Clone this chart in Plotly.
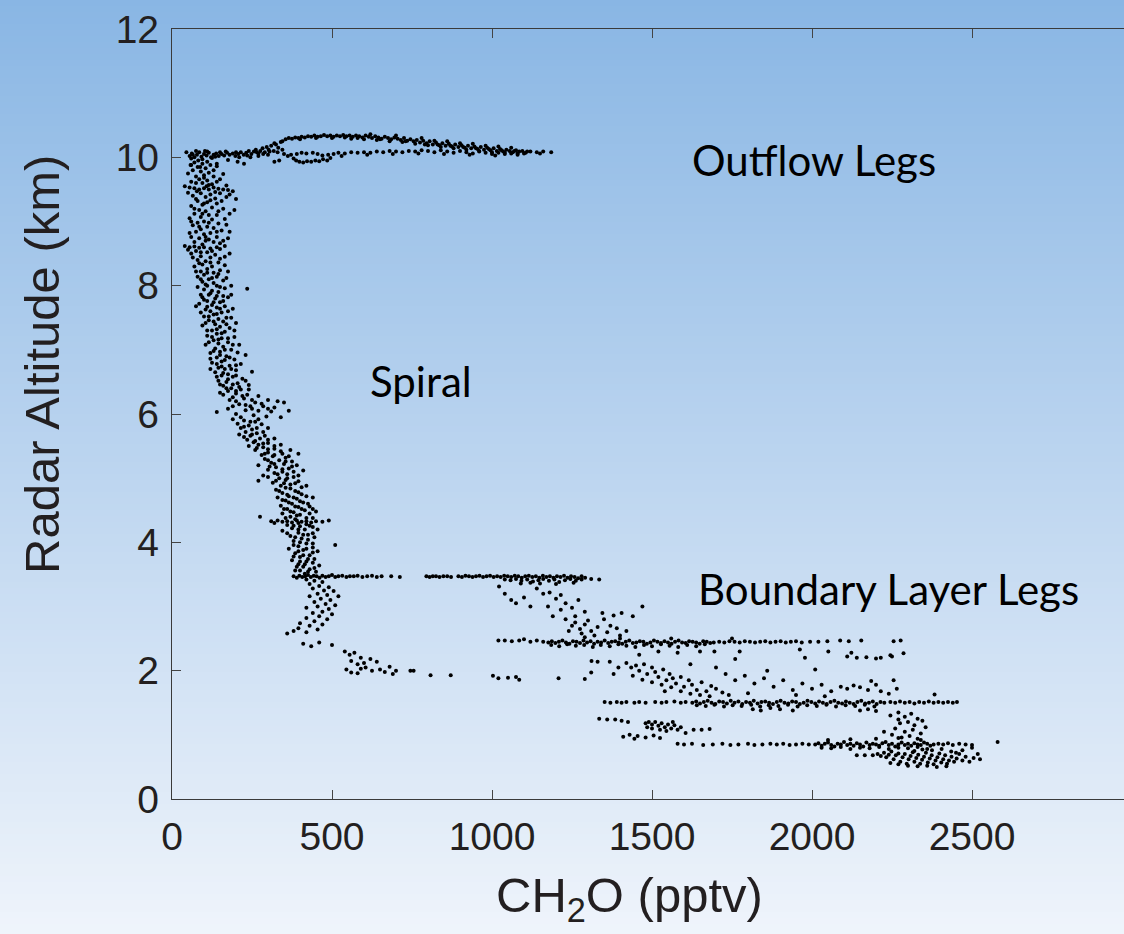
import plotly.graph_objects as go

# ---------------- data (CH2O pptv, radar altitude km) ----------------
OUTFLOW_WEST = [
    (45,10.08),(55,10.02),(62,10.06),(70,10.0),(78,10.04),(85,10.08),(92,10.01),(100,10.05),(108,10.03),
    (115,10.07),(122,10.0),(130,10.04),(138,10.06),(146,10.02),(155,10.05),(163,10.03),(172,10.07),(180,10.04),
    (190,10.06),(198,10.02),(207,10.05),(215,10.08),(224,10.04),(232,10.07),(240,10.1),(248,10.05),(256,10.09),
    (262,10.12),(270,10.06),(276,10.1),(283,10.14),(290,10.08),(296,10.16),(302,10.12),(310,10.18),(318,10.1),
    (325,10.2),(332,10.15),(60,9.98),(75,10.1),(95,9.97),(110,10.09),(125,9.99),(150,10.08),(175,9.96),(210,10.0),
    (245,10.0),(270,10.02),(300,10.04),(320,10.22),(58,9.88),(88,9.85),(140,9.9),(205,9.93),(225,9.9),(340,10.24),
    (335,9.95),(320,9.93),
    (65,10.04),(103,10.1),(135,10.01),(168,10.09),(200,10.08),(235,10.03),(265,10.08),(285,10.05),(305,10.09),
    (330,10.08),(345,10.12),
]
OUTFLOW_UPPER = [
    (345,10.25),(355,10.28),(365,10.3),(375,10.29),(385,10.31),(395,10.3),(405,10.32),(415,10.31),(425,10.33),
    (435,10.32),(445,10.34),(455,10.32),(465,10.33),(475,10.35),(485,10.33),(495,10.34),(505,10.32),(515,10.34),
    (525,10.33),(535,10.35),(545,10.33),(555,10.34),(565,10.32),(575,10.34),(585,10.33),(595,10.31),(605,10.34),
    (615,10.32),(625,10.3),(635,10.33),(645,10.31),(655,10.29),(665,10.32),(675,10.3),(685,10.28),(695,10.31),
    (705,10.29),(715,10.27),(725,10.3),(735,10.26),(745,10.28),(755,10.25),(765,10.27),(775,10.23),(785,10.26),
    (795,10.22),(805,10.25),(815,10.2),(825,10.23),(835,10.19),(845,10.22),(855,10.18),(865,10.21),(875,10.17),
    (885,10.2),(895,10.16),(905,10.19),(915,10.15),(925,10.18),(935,10.14),(945,10.17),(955,10.13),(965,10.16),
    (975,10.12),(985,10.15),(995,10.11),(1005,10.14),(1015,10.1),(1025,10.13),(1035,10.09),(1045,10.12),
    (1055,10.1),(1065,10.08),(1075,10.11),(1085,10.09),(1095,10.1),(1105,10.07),(1120,10.09),(1140,10.08),
    (1160,10.09),(1185,10.08),(560,10.29),(600,10.28),(640,10.27),(680,10.25),(720,10.24),(760,10.21),(800,10.19),
    (840,10.16),(880,10.14),(920,10.12),(960,10.1),(1000,10.08),(1040,10.07),(1080,10.06),(620,10.36),(700,10.34),
    (780,10.3),(860,10.25),(940,10.21),(1020,10.17),
    (400,10.28),(450,10.3),(500,10.3),(540,10.31),(580,10.3),(650,10.28),(730,10.25),(790,10.2),(830,10.2),
    (870,10.18),(910,10.16),(950,10.14),(990,10.13),(1030,10.11),(1070,10.1),(1110,10.09),(1150,10.06),
    (1060,10.15),(980,10.18),(900,10.22),(820,10.26),
]
OUTFLOW_RETURN = [
    (350,10.05),(362,10.02),(372,10.04),(380,9.98),(388,9.95),(398,9.93),(410,9.92),(422,9.94),(435,9.93),
    (448,9.95),(460,9.94),(472,9.97),(485,9.95),(495,9.99),(390,10.05),(405,10.07),(420,10.06),(440,10.07),
    (455,10.05),(470,10.03),(488,10.04),(505,10.05),(520,10.07),(540,10.06),(560,10.08),(580,10.07),(600,10.08),
    (620,10.07),(640,10.09),(660,10.08),(680,10.1),(700,10.09),(720,10.08),(740,10.1),(760,10.09),(780,10.11),
    (800,10.1),(820,10.08),(840,10.11),(860,10.09),(880,10.07),(900,10.1),(920,10.08),(940,10.06),(960,10.09),
    (980,10.07),(1000,10.05),(1020,10.07),(1040,10.05),(1060,10.06),(1080,10.04),(1100,10.06),(530,10.02),
    (610,10.04),(690,10.05),(770,10.06),(850,10.05),(930,10.04),(1010,10.03),
]
SPIRAL_UPPER = [
    (70,9.92),(95,9.9),(120,9.88),(80,9.85),(105,9.83),(140,9.86),(65,9.8),(90,9.78),(115,9.76),(100,9.72),
    (75,9.7),(130,9.7),(160,9.74),(85,9.66),(110,9.64),(60,9.62),(140,9.62),(95,9.6),(125,9.58),(40,9.55),
    (55,9.53),(70,9.52),(85,9.5),(100,9.52),(115,9.5),(130,9.53),(145,9.51),(160,9.5),(175,9.49),(190,9.47),
    (108,9.55),(78,9.47),(90,9.44),(120,9.42),(150,9.44),(65,9.4),(105,9.38),(135,9.36),(170,9.38),(200,9.35),
    (80,9.32),(110,9.3),(95,9.26),(140,9.28),(60,9.24),(125,9.22),(160,9.2),(85,9.18),(105,9.16),(195,9.18),
    (70,9.12),(115,9.1),(140,9.1),(90,9.07),(55,9.05),(125,9.03),(165,9.04),(100,9.0),(80,8.98),(145,8.97),
    (65,8.94),(110,8.92),(130,8.9),(90,8.88),(155,8.86),(75,8.84),(120,8.82),(180,8.84),(100,8.8),(60,8.76),
    (140,8.76),(85,8.74),(115,8.72),(160,8.7),(105,8.7),(130,8.68),(40,8.62),(55,8.6),(70,8.61),(85,8.59),
    (100,8.6),(120,8.58),(140,8.6),(165,8.62),(95,8.64),(150,8.57),(75,8.54),(110,8.52),(60,8.5),(135,8.48),
    (90,8.46),(120,8.44),(165,8.45),(80,8.4),(105,8.38),(145,8.36),(95,8.33),(70,8.3),(125,8.3),(110,8.26),
    (150,8.24),(90,8.22),(130,8.2),(175,8.22),(100,8.17),(80,8.14),(140,8.14),(115,8.1),(160,8.08),(95,8.06),
    (130,8.04),(185,8.0),(110,8.0),(150,7.98),(235,7.95),(100,7.94),(125,7.92),(145,7.9),(115,7.86),(160,7.84),
    (95,7.82),(135,7.8),(175,7.82),(110,7.76),(150,7.74),(85,7.72),(125,7.7),(165,7.68),(140,7.66),(105,7.63),
    (190,7.64),(120,7.6),(155,7.58),(130,7.55),(100,7.52),(170,7.5),(145,7.48),(115,7.46),(160,7.44),(200,7.42),
    (135,7.4),(95,7.38),(150,7.36),(180,7.34),(125,7.3),(165,7.28),(140,7.25),(110,7.22),(195,7.2),(155,7.18),
    (130,7.15),(175,7.12),(145,7.1),(105,7.08),(210,7.08),(160,7.05),(135,7.02),(185,7.0),(150,6.97),(120,6.95),
    (230,6.92),(170,6.9),(140,6.88),(195,6.85),(155,6.82),(125,6.8),(215,6.78),(180,6.75),(145,6.72),(165,6.7),
    (200,6.68),(135,6.65),(250,6.66),(175,6.62),(155,6.6),(190,6.58),(220,6.55),(145,6.52),(170,6.5),(205,6.48),
    (240,6.45),(160,6.44),(185,6.4),(215,6.38),(175,6.36),(150,6.33),(200,6.32),(235,6.3),(270,6.28),(190,6.26),
    (225,6.24),(300,6.22),(330,6.2),(350,6.18),(260,6.18),(210,6.15),(245,6.12),(285,6.12),(320,6.1),(175,6.08),
    (230,6.06),(270,6.05),(310,6.04),(365,6.05),(140,6.03),(200,6.0),(255,5.98),(295,5.96),(340,5.95),
]
SPIRAL_UPPER_EXTRA = [
    (82,9.95),(110,9.93),(60,9.88),(130,9.8),(50,9.75),(100,9.68),(150,9.66),(75,9.6),(115,9.57),(170,9.56),
    (50,9.45),(135,9.46),(180,9.42),(75,9.35),(120,9.33),(155,9.32),(100,9.28),(70,9.2),(145,9.16),(180,9.12),
    (95,9.12),(60,9.0),(115,8.98),(170,8.95),(85,8.92),(140,8.84),(55,8.82),(105,8.76),(175,8.74),(70,8.68),
    (150,8.66),(50,8.56),(90,8.52),(125,8.54),(180,8.5),(65,8.44),(150,8.42),(85,8.35),(120,8.36),(165,8.32),
    (75,8.22),(110,8.2),(145,8.18),(125,8.12),(90,8.1),(170,8.12),(105,8.02),(140,8.0),(80,7.98),(165,7.96),
    (120,7.88),(185,7.86),(90,7.86),(140,7.84),(100,7.78),(160,7.76),(130,7.74),(75,7.68),(110,7.67),(150,7.64),
    (175,7.6),(90,7.58),(140,7.56),(115,7.52),(185,7.5),(130,7.44),(105,7.42),(170,7.4),(140,7.32),(110,7.3),
    (195,7.3),(155,7.26),(125,7.2),(175,7.18),(145,7.16),(115,7.12),(190,7.08),(165,7.0),(130,6.98),(205,6.96),
    (150,6.92),(180,6.88),(120,6.86),(165,6.84),(140,6.78),(200,6.76),(155,6.74),(185,6.7),(120,6.7),(160,6.64),
    (200,6.6),(140,6.58),(175,6.54),(230,6.52),(190,6.46),(150,6.46),(210,6.42),(170,6.4),(240,6.38),(200,6.36),
    (160,6.3),(220,6.28),(180,6.22),(250,6.22),(200,6.2),(280,6.16),(230,6.14),(190,6.12),(300,6.08),(250,6.08),
]
SPIRAL_LOWER = [
    (190,5.92),(225,5.9),(260,5.88),(205,5.85),(240,5.82),(280,5.84),(215,5.78),(250,5.76),(300,5.78),(230,5.72),
    (265,5.7),(210,5.68),(245,5.66),(290,5.66),(275,5.62),(235,5.6),(320,5.62),(255,5.56),(300,5.55),(270,5.52),
    (340,5.52),(240,5.5),(285,5.48),(320,5.46),(370,5.44),(260,5.44),(300,5.4),(345,5.38),(280,5.36),(395,5.38),
    (315,5.34),(355,5.32),(290,5.3),(335,5.28),(375,5.26),(310,5.24),(350,5.22),(270,5.2),(390,5.2),(325,5.17),
    (365,5.15),(300,5.13),(345,5.1),(410,5.12),(320,5.08),(360,5.06),(285,5.04),(380,5.02),(335,5.0),(355,4.97),
    (270,4.96),(395,4.95),(315,4.93),(370,4.9),(340,4.88),(420,4.88),(355,4.85),(325,4.82),(385,4.8),(345,4.77),
    (405,4.75),(365,4.72),(330,4.7),(390,4.68),(440,4.7),(355,4.65),(410,4.62),(375,4.6),(340,4.57),(395,4.55),
    (430,4.56),(360,4.52),(415,4.5),(380,4.47),(450,4.48),(345,4.45),(400,4.43),(275,4.4),(370,4.4),(420,4.38),
    (310,4.33),(330,4.34),(345,4.32),(360,4.33),(375,4.31),(390,4.34),(405,4.32),(420,4.33),(435,4.31),(450,4.33),
    (470,4.32),(490,4.34),(320,4.3),(385,4.36),(360,4.27),(400,4.25),(430,4.26),(375,4.22),(415,4.2),(345,4.18),
    (455,4.2),(395,4.15),(425,4.12),(370,4.1),(445,4.08),(405,4.06),(380,4.02),(510,3.96),(420,3.98),(395,3.94),
    (440,3.92),(365,3.9),(410,3.88),(455,3.86),(385,3.83),(430,3.8),(400,3.77),(445,3.74),(375,3.72),(420,3.7),
    (395,3.66),(460,3.64),(410,3.62),(430,3.58),(385,3.56),(450,3.54),(415,3.51),
    (420,3.42),(445,3.4),(470,3.38),(430,3.35),(460,3.32),(490,3.3),(440,3.28),(475,3.25),(505,3.24),(455,3.2),
    (485,3.18),(430,3.16),(520,3.16),(465,3.12),(495,3.1),(445,3.07),(480,3.04),(510,3.02),(455,3.0),(420,2.98),
    (490,2.96),(470,2.92),(440,2.9),(500,2.88),(460,2.85),(420,2.82),(485,2.8),(445,2.77),(400,2.74),(470,2.72),
    (430,2.7),(395,2.66),(455,2.64),(380,2.62),(420,2.6),(360,2.58),
]
SPIRAL_LOWER_EXTRA = [
    (215,5.95),(270,5.92),(245,5.88),(225,5.8),(265,5.78),(285,5.72),(250,5.68),(225,5.64),(300,5.6),(260,5.58),
    (285,5.54),(320,5.5),(265,5.47),(300,5.45),(340,5.42),(290,5.38),(320,5.36),(365,5.34),(300,5.28),(355,5.26),
    (320,5.22),(375,5.18),(305,5.18),(345,5.14),(380,5.1),(330,5.06),(300,5.02),(360,5.0),(395,5.04),(325,4.96),
    (385,4.92),(350,4.92),(405,4.86),(370,4.84),(335,4.8),(395,4.78),(360,4.74),(420,4.72),(380,4.7),(345,4.66),
    (400,4.64),(365,4.62),(425,4.6),(385,4.56),(350,4.52),(405,4.52),(440,4.52),(370,4.48),(430,4.45),(390,4.42),
    (355,4.38),(440,4.38),(395,4.3),(420,4.28),(380,4.26),(440,4.24),(395,4.2),(360,4.14),(410,4.12),(440,4.14),
    (385,4.08),(425,4.04),(400,4.0),(440,3.98),(380,3.96),(420,3.9),(395,3.86),(440,3.84),(410,3.8),(380,3.78),
    (425,3.74),(400,3.7),(440,3.68),(415,3.66),(390,3.62),(445,3.6),(400,3.56),(425,3.54),
]
SPIRAL_BASE = [
    (410,2.42),(435,2.38),(460,2.44),(500,2.4),(540,2.3),(555,2.25),(570,2.28),(590,2.2),(560,2.15),(580,2.1),
    (600,2.12),(620,2.18),(640,2.14),(605,2.05),(625,2.0),(650,2.02),(680,2.06),(665,1.98),(545,2.02),(560,1.97),
    (590,2.03),(700,2.0),(690,1.95),(580,1.96),(745,2.0),(755,2.0),(808,1.93),(871,1.93),(1003,1.92),(1020,1.88),
    (1050,1.89),(1075,1.9),(1085,1.86),(1208,1.88),(1290,1.87),(1310,1.97),
]
LEG_3_5KM = [
    (380,3.47),(390,3.45),(398,3.48),(407,3.46),(416,3.47),(425,3.49),(434,3.46),(443,3.48),(452,3.47),(461,3.45),
    (470,3.48),(480,3.46),(490,3.47),(500,3.49),(510,3.46),(520,3.47),(532,3.48),(545,3.46),(556,3.47),(568,3.47),
    (580,3.48),(595,3.46),(610,3.47),(625,3.48),(640,3.46),(655,3.47),(685,3.47),(712,3.46),
    (795,3.47),(805,3.46),(815,3.47),(825,3.47),(836,3.46),(848,3.47),(860,3.47),(872,3.46),
    (895,3.47),(906,3.46),(917,3.48),(928,3.47),(939,3.46),(950,3.47),(961,3.48),(972,3.46),(983,3.47),(994,3.48),
    (1005,3.46),(1016,3.47),(1027,3.46),(1038,3.48),(1049,3.47),(1060,3.46),(1071,3.48),(1082,3.47),(1093,3.45),
    (1104,3.47),(1115,3.48),(1126,3.46),(1137,3.47),(1148,3.45),(1159,3.48),(1170,3.46),(1181,3.47),(1192,3.45),
    (1203,3.47),(1214,3.46),(1225,3.48),(1236,3.45),(1247,3.47),(1258,3.46),(1269,3.44),(1280,3.47),(1291,3.45),
    (1040,3.42),(1058,3.41),(1075,3.43),(1092,3.4),(1110,3.42),(1128,3.39),(1145,3.41),(1160,3.43),(1178,3.4),
    (1195,3.42),(1210,3.38),(1228,3.41),(1245,3.43),(1262,3.4),(1280,3.42),(1150,3.36),(1120,3.37),(1200,3.35),
    (1255,3.37),(1090,3.36),(1310,3.43),(1335,3.42),
]
CASCADE = [
    (1022,3.31),(1040,3.2),(1060,3.1),(1075,3.05),(1100,3.14),(1120,3.0),(1140,3.28),(1160,3.2),(1180,3.22),
    (1200,3.12),(1215,3.18),(1230,3.05),(1250,2.98),(1270,3.1),(1290,2.92),(1175,3.0),(1215,2.95),(1190,2.85),
    (1230,2.8),(1250,2.7),(1260,2.75),(1275,2.65),(1290,2.72),(1300,2.78),(1310,2.62),(1330,2.68),(1350,2.8),
    (1370,2.7),(1390,2.66),(1240,2.62),(1280,2.58),(1320,2.55),(1360,2.6),(1400,2.55),(1420,2.62),(1260,2.85),
    (1345,2.9),(1380,2.86),(1405,2.9),(1440,2.85),(1470,3.0),
]
LEG_2_5KM = [
    (1020,2.47),(1040,2.47),(1062,2.46),(1085,2.47),(1100,2.49),(1120,2.45),(1140,2.47),(1160,2.45),
    (1176,2.44),(1187,2.46),(1198,2.43),(1209,2.45),(1220,2.47),(1231,2.44),(1242,2.42),(1253,2.46),(1264,2.45),
    (1275,2.43),(1286,2.47),(1297,2.44),(1308,2.46),(1319,2.42),(1330,2.45),(1341,2.44),(1352,2.47),(1363,2.43),
    (1374,2.45),(1385,2.46),(1396,2.44),(1407,2.42),(1418,2.45),(1429,2.47),(1440,2.43),(1451,2.44),(1462,2.46),
    (1473,2.45),(1484,2.42),(1495,2.44),(1506,2.47),(1517,2.45),(1528,2.43),(1539,2.46),(1550,2.44),(1561,2.42),
    (1572,2.45),(1583,2.47),(1594,2.44),(1605,2.43),(1616,2.46),(1627,2.45),(1638,2.44),(1649,2.42),(1660,2.46),
    (1671,2.45),(1682,2.43),(1693,2.44),
    (1185,2.4),(1210,2.38),(1235,2.41),(1262,2.39),(1288,2.4),(1315,2.37),(1340,2.4),(1368,2.38),(1395,2.41),
    (1420,2.39),(1448,2.37),(1475,2.4),(1500,2.38),(1528,2.41),(1555,2.39),(1582,2.37),(1610,2.4),(1638,2.38),
    (1665,2.41),
    (1710,2.45),(1726,2.44),(1742,2.46),(1758,2.45),(1774,2.44),(1790,2.46),(1806,2.45),(1822,2.44),(1838,2.45),
    (1854,2.46),(1870,2.44),(1886,2.45),(1902,2.46),(1918,2.44),(1934,2.45),(1950,2.46),(1968,2.44),(1994,2.45),
    (2020,2.45),(2048,2.46),(2088,2.47),(2154,2.47),(2277,2.47),(1290,2.52),(1400,2.5),(1560,2.5),(1750,2.5),
]
MID_SCATTER = [
    (1311,2.15),(1330,2.14),(1368,2.14),(1420,2.12),(1435,2.05),(1450,2.08),(1460,2.0),(1475,2.1),(1485,1.95),
    (1500,2.05),(1510,1.98),(1520,1.9),(1535,2.02),(1545,1.85),(1555,1.95),(1565,1.88),(1575,1.8),(1590,1.9),
    (1600,1.75),(1615,1.85),(1625,1.78),(1640,1.7),(1655,1.82),(1670,1.68),(1685,1.76),(1700,1.72),(1720,1.66),
    (1440,1.92),(1470,1.86),(1500,1.82),(1530,1.78),(1560,1.74),(1590,1.68),(1620,1.64),(1650,1.62),(1460,2.25),
    (1520,2.3),(1580,2.28),(1650,2.3),(1695,2.3),(1774,2.3),(1760,2.18),(1730,1.95),(1760,1.85),(1790,1.92),
    (1820,1.8),(1850,1.88),(1880,1.75),(1910,1.85),(1940,1.7),(1970,1.8),(2000,1.72),(2030,1.78),(2060,1.68),
    (1962,2.33),(1978,2.2),(2051,2.3),(2010,2.02),(1860,2.0),(1800,1.65),(1950,1.62),(2040,1.6),(1700,2.05),
    (1620,2.1),(1380,1.95),(1395,2.05),(1540,1.68),(1680,1.6),(1740,1.62),
    (2090,1.75),(2110,1.72),(2130,1.77),(2150,1.74),(2175,1.7),(2200,1.78),(2215,1.68),(2240,1.64),(2265,1.72),
    (2185,1.84),(2255,1.85),(2110,2.22),(2140,2.2),(2170,2.21),(2200,2.19),(2215,2.2),(2250,2.22),(2115,2.46),
    (2255,2.46),(2383,1.63),(2123,2.28),(2245,2.24),(2286,2.27),
]
LEG_1_5KM = [
    (1352,1.51),(1370,1.5),(1390,1.51),(1405,1.5),(1420,1.51),(1445,1.5),(1460,1.51),(1480,1.5),(1510,1.51),
    (1530,1.5),(1545,1.51),(1570,1.52),(1590,1.5),(1605,1.51),
    (1626,1.5),(1638,1.52),(1650,1.49),(1662,1.51),(1674,1.53),(1686,1.5),(1698,1.48),(1710,1.52),(1722,1.51),
    (1734,1.49),(1746,1.53),(1758,1.5),(1770,1.52),(1782,1.48),(1794,1.51),(1806,1.5),(1818,1.53),(1830,1.49),
    (1842,1.51),(1854,1.52),(1866,1.5),(1878,1.48),(1890,1.51),(1902,1.53),(1914,1.5),(1926,1.49),(1938,1.52),
    (1950,1.51),(1962,1.48),(1974,1.5),(1986,1.53),(1998,1.51),(2010,1.49),(2022,1.52),(2034,1.5),(2046,1.48),
    (2058,1.51),(2070,1.53),(2082,1.5),(2094,1.49),(2106,1.52),(2118,1.5),(2130,1.48),(2142,1.51),(2154,1.53),
    (2166,1.49),(2178,1.5),(2190,1.52),(2202,1.48),(2214,1.51),(2226,1.5),
    (1640,1.46),(1668,1.45),(1695,1.47),(1725,1.44),(1752,1.46),(1780,1.45),(1810,1.47),(1838,1.44),(1865,1.46),
    (1895,1.45),(1925,1.47),(1955,1.44),(1985,1.46),(2015,1.45),(2045,1.47),(2075,1.44),(2105,1.46),(2135,1.45),
    (2165,1.47),(2195,1.44),
    (2245,1.51),(2260,1.5),(2275,1.52),(2290,1.5),(2305,1.51),(2320,1.49),(2335,1.51),(2350,1.5),(2365,1.52),
    (2380,1.5),(2395,1.51),(2410,1.5),(2425,1.51),(2440,1.5),(2453,1.51),
    (1815,1.4),(1840,1.38),(1870,1.42),(1900,1.4),(1940,1.38),(2150,1.38),(2175,1.4),(2200,1.37),
]
CLUSTER_1_1KM = [
    (1335,1.25),(1360,1.24),(1385,1.24),(1405,1.22),(1425,1.2),(1480,1.18),(1490,1.2),(1500,1.16),(1510,1.2),
    (1520,1.14),(1530,1.18),(1540,1.12),(1550,1.16),(1560,1.1),(1570,1.15),(1580,1.08),(1590,1.12),(1500,1.1),
    (1525,1.08),(1545,1.06),(1485,1.12),(1565,1.2),(1410,0.97),(1430,1.0),(1455,0.98),(1480,0.96),(1505,0.99),
    (1525,0.95),(1445,0.94),(1630,1.08),(1655,1.08),(1680,1.09),(1605,1.03),
]
LEG_0_8KM = [
    (1580,0.86),(1600,0.85),(1625,0.86),(1660,0.84),(1690,0.85),(1720,0.86),(1745,0.84),(1770,0.85),(1800,0.86),
    (1820,0.84),(1845,0.85),(1870,0.86),(1890,0.85),(1910,0.86),(1930,0.84),(1950,0.85),(1970,0.86),(1990,0.85),
    (2010,0.85),(2020,0.87),(2030,0.83),(2040,0.86),(2050,0.88),(2060,0.84),(2070,0.82),(2080,0.86),(2090,0.85),
    (2100,0.89),(2110,0.84),(2120,0.86),(2130,0.83),(2140,0.87),(2150,0.85),(2160,0.82),(2170,0.88),(2180,0.84),
    (2190,0.86),(2200,0.85),(2210,0.83),(2220,0.87),(2230,0.89),(2240,0.84),(2250,0.86),(2260,0.82),(2270,0.85),
    (2280,0.88),(2290,0.84),(2300,0.86),(2310,0.83),(2320,0.87),(2330,0.85),(2340,0.84),(2350,0.88),(2360,0.86),
    (2370,0.83),(2380,0.85),
    (2030,0.8),(2060,0.79),(2090,0.81),(2120,0.78),(2150,0.8),(2180,0.79),(2210,0.81),(2240,0.78),(2270,0.8),
    (2300,0.79),(2330,0.81),(2360,0.78),
    (2395,0.86),(2410,0.85),(2425,0.87),(2440,0.84),(2460,0.86),(2480,0.85),(2500,0.84),(2580,0.89),
    (2050,0.92),(2120,0.93),(2200,0.94),(2270,0.95),(2340,0.92),
]
BOTTOM_CLUSTER = [
    (2140,0.68),(2165,0.68),(2190,0.68),(2205,0.7),(2215,0.67),(2225,0.72),(2232,0.65),(2240,0.69),(2248,0.74),
    (2255,0.62),(2262,0.68),(2270,0.71),(2276,0.58),(2283,0.65),(2290,0.7),(2296,0.55),(2302,0.62),(2308,0.67),
    (2315,0.73),(2320,0.58),(2326,0.64),(2332,0.69),(2338,0.55),(2344,0.61),(2350,0.66),(2356,0.72),(2362,0.57),
    (2368,0.63),(2374,0.68),(2380,0.54),(2386,0.6),(2392,0.65),(2398,0.71),(2404,0.57),(2410,0.62),(2416,0.68),
    (2422,0.55),(2428,0.6),(2436,0.66),(2444,0.58),(2452,0.63),(2460,0.7),(2470,0.6),(2480,0.66),(2492,0.58),
    (2505,0.64),(2518,0.7),(2300,0.52),(2330,0.51),(2360,0.52),(2390,0.5),(2420,0.51),(2270,0.54),(2245,0.56),
    (2320,0.75),(2345,0.77),(2375,0.76),(2405,0.78),(2435,0.74),(2470,0.76),(2500,0.8),(2450,0.72),(2525,0.62),
]
COLUMN_2300 = [
    (2245,1.3),(2270,1.35),(2290,1.28),(2310,1.33),(2330,1.25),(2300,1.2),(2275,1.18),(2320,1.15),(2345,1.22),
    (2260,1.1),(2290,1.05),(2315,1.08),(2340,1.02),(2250,1.0),(2280,0.96),(2305,0.98),(2330,0.94),(2270,1.24),
    (2225,1.05),(2355,1.12),
]

SEGMENTS = [OUTFLOW_WEST, OUTFLOW_UPPER, OUTFLOW_RETURN, SPIRAL_UPPER, SPIRAL_UPPER_EXTRA, SPIRAL_LOWER,
            SPIRAL_LOWER_EXTRA, SPIRAL_BASE, LEG_3_5KM, CASCADE, LEG_2_5KM, MID_SCATTER, LEG_1_5KM,
            CLUSTER_1_1KM, LEG_0_8KM, BOTTOM_CLUSTER, COLUMN_2300]

X_TICKS = [0, 500, 1000, 1500, 2000, 2500]
Y_TICKS = [0, 2, 4, 6, 8, 10, 12]
LABELS = [("Outflow Legs", 1618, 9.96), ("Spiral", 612, 6.52), ("Boundary Layer Legs", 1639, 3.28)]

# ---------------- figure ----------------
W, H = 1124, 934
ML, MT, MB = 172, 29, 135
PH = H - MT - MB
XMAX = (W - ML) * 3.125

xs = [p[0] for seg in SEGMENTS for p in seg]
ys = [p[1] for seg in SEGMENTS for p in seg]

fig = go.Figure(go.Scatter(x=xs, y=ys, mode="markers",
                           marker=dict(color="black", size=4, line=dict(width=0)),
                           hoverinfo="skip", showlegend=False))

# vertical background gradient (light blue -> almost white)
top_c, bot_c = (137, 182, 228), (239, 244, 251)
shapes = []
step = 6
for py in range(0, H, step):
    t = (py + step / 2) / H
    c = tuple(round(a + (b - a) * t) for a, b in zip(top_c, bot_c))
    y0 = (MT + PH - (py + step + 1)) / PH
    y1 = (MT + PH - py) / PH
    shapes.append(dict(type="rect", xref="paper", yref="paper", x0=-0.25, x1=1.05, y0=y0, y1=y1,
                       fillcolor="rgb(%d,%d,%d)" % c, line=dict(width=0), layer="below"))

tick_font = dict(family="Liberation Sans, Arial, Helvetica", size=39, color="#231f20")
ann = []
for txt, x, y in LABELS:
    ann.append(dict(text=txt, x=x, y=y, xref="x", yref="y", xanchor="left", yanchor="middle",
                    showarrow=False, font=dict(family="Lato", size=42, color="black")))
ann.append(dict(text="Radar Altitude (km)", xref="paper", yref="paper",
                x=(42 - ML) / (W - ML), y=(MT + PH - 365) / PH, xanchor="center", yanchor="middle",
                textangle=-90, showarrow=False,
                font=dict(family="Liberation Sans, Arial, Helvetica", size=49, color="#231f20")))
ann.append(dict(text="CH<sub>2</sub>O (pptv)", xref="paper", yref="paper",
                x=(629 - ML) / (W - ML), y=(MT + PH - 898) / PH, xanchor="center", yanchor="middle",
                showarrow=False,
                font=dict(family="Liberation Sans, Arial, Helvetica", size=49, color="#231f20")))

fig.update_layout(
    width=W, height=H, autosize=False,
    margin=dict(l=ML, r=0, t=MT, b=MB),
    paper_bgcolor="rgb(238,243,251)", plot_bgcolor="rgba(0,0,0,0)",
    shapes=shapes, annotations=ann,
    xaxis=dict(range=[0, XMAX], tickvals=X_TICKS, ticktext=[str(v) for v in X_TICKS],
               ticks="inside", ticklen=9, tickwidth=1.2, tickcolor="#444",
               showline=True, linecolor="#3a3a3a", linewidth=1.3, mirror="ticks",
               showgrid=False, zeroline=False, tickfont=tick_font, ticklabelstandoff=3),
    yaxis=dict(range=[0, 12], tickvals=Y_TICKS, ticktext=[str(v) for v in Y_TICKS],
               ticks="inside", ticklen=9, tickwidth=1.2, tickcolor="#444",
               showline=True, linecolor="#3a3a3a", linewidth=1.3,
               showgrid=False, zeroline=False, tickfont=tick_font, ticklabelstandoff=4),
)

fig.write_html("out.html", config={"displayModeBar": False},
               post_script="document.body.style.margin='0px';document.body.style.overflow='hidden';")
